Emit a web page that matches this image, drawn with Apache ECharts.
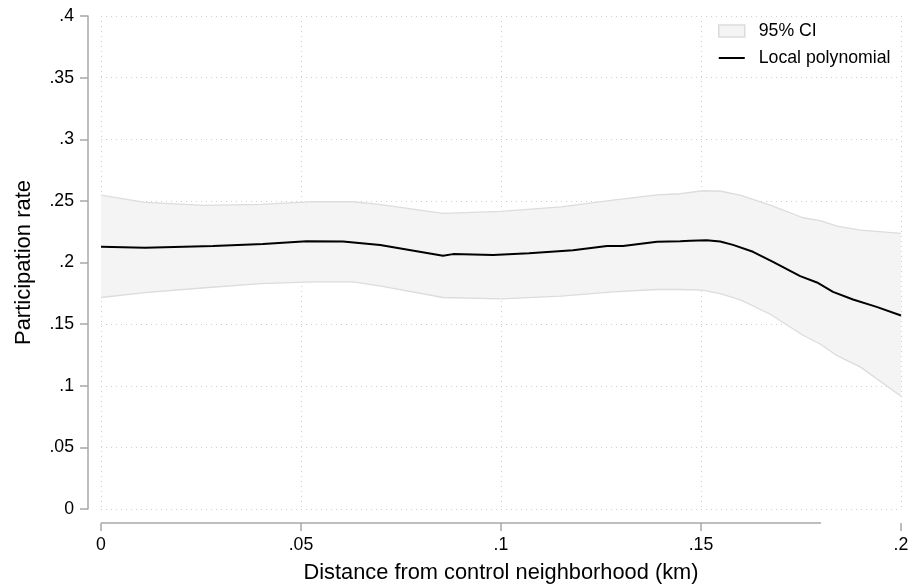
<!DOCTYPE html>
<html><head><meta charset="utf-8">
<script src="https://cdn.jsdelivr.net/npm/echarts@6/dist/echarts.min.js"></script>
<style>html,body{margin:0;padding:0;background:#fff}#c{width:913px;height:584px}</style>
</head><body><div id="c"></div>
<script>
// ---- data ----
const xTicks = [0, 0.05, 0.1, 0.15, 0.2];
const yTicks = [0, 0.05, 0.1, 0.15, 0.2, 0.25, 0.3, 0.35, 0.4];

const lineX = [0, 0.011, 0.028, 0.0405, 0.0514, 0.0605, 0.0698, 0.0855, 0.088, 0.098, 0.107, 0.118, 0.1265, 0.1305, 0.139, 0.1448, 0.1473, 0.1514, 0.1548, 0.158, 0.163, 0.168, 0.1748, 0.179, 0.183, 0.188, 0.1939, 0.2];
const lineY = [0.2127, 0.2119, 0.2133, 0.2151, 0.2173, 0.2171, 0.2142, 0.2054, 0.2068, 0.206, 0.2076, 0.210, 0.2133, 0.2133, 0.2168, 0.2173, 0.2176, 0.2181, 0.2171, 0.2143, 0.2087, 0.2005, 0.1889, 0.1838, 0.1762, 0.170, 0.164, 0.157];

const ciX     = [0, 0.011, 0.026, 0.04, 0.053, 0.063, 0.07, 0.0855, 0.1, 0.115, 0.128, 0.139, 0.1448, 0.1505, 0.155, 0.16, 0.1673, 0.1755, 0.18, 0.184, 0.1898, 0.2];
const ciUpper = [0.2547, 0.2488, 0.2463, 0.2471, 0.2494, 0.2493, 0.2470, 0.2398, 0.2414, 0.2452, 0.2506, 0.2549, 0.2558, 0.2582, 0.2578, 0.2545, 0.2466, 0.2363, 0.2338, 0.2295, 0.2263, 0.2236];
const ciLower = [0.1716, 0.1755, 0.1795, 0.1829, 0.1843, 0.1843, 0.1808, 0.1716, 0.1705, 0.1727, 0.1762, 0.1781, 0.1781, 0.1776, 0.1745, 0.1695, 0.1580, 0.1410, 0.1335, 0.1244, 0.1153, 0.0915];

const xAxisLineEnd = 0.18;   // the drawn x axis line stops here

// ---- styles ----
const AXIS_COLOR = '#a8a8a8';
const GRID_COLOR = '#d0d0d0';
const BAND_FILL = '#f4f4f4';
const BAND_EDGE = '#dcdcdc';
const FONT = '"Liberation Sans", Arial, Helvetica, sans-serif';
const X_OFFSET = 14, Y_OFFSET = 13;

const fmt = v => {
  if (Math.abs(v) < 1e-9) return '0';
  return String(+(+v).toFixed(3)).replace(/^0/, '');
};

const chart = echarts.init(document.getElementById('c'), null, {renderer: 'canvas'});

const option = {
  animation: false,
  backgroundColor: '#fff',
  textStyle: {fontFamily: FONT},
  grid: {left: 101, right: 12, top: 16, bottom: 75, containLabel: false, outerBoundsMode: 'none'},
  legend: {
    orient: 'vertical', left: 718, top: 22, padding: 0, itemWidth: 26, itemHeight: 12, itemGap: 9,
    textStyle: {fontSize: 17.7, color: '#000', fontFamily: FONT, padding: [0, 0, 0, 9]},
    data: [
      {name: '95% CI', icon: 'rect', itemStyle: {color: BAND_FILL, borderColor: BAND_EDGE, borderWidth: 1.5}},
      {name: 'Local polynomial', icon: 'path://M0,0H26V2H0Z', itemStyle: {color: '#000'}}
    ]
  },
  xAxis: {
    type: 'value', min: xTicks[0], max: xTicks[xTicks.length - 1], interval: xTicks[1] - xTicks[0],
    offset: X_OFFSET,
    name: 'Distance from control neighborhood (km)', nameLocation: 'middle', nameGap: 39,
    nameTextStyle: {fontSize: 21.8, color: '#000', fontFamily: FONT},
    axisLine: {show: false, onZero: false},
    axisTick: {show: true, length: 8, lineStyle: {color: AXIS_COLOR, width: 1.5}},
    axisLabel: {formatter: fmt, fontSize: 17.7, color: '#000', margin: 13, fontFamily: FONT},
    splitLine: {show: true, lineStyle: {color: GRID_COLOR, type: [1, 4], width: 1}}
  },
  yAxis: {
    type: 'value', min: yTicks[0], max: yTicks[yTicks.length - 1], interval: yTicks[1] - yTicks[0],
    offset: Y_OFFSET,
    name: 'Participation rate', nameLocation: 'middle', nameGap: 53,
    nameTextStyle: {fontSize: 22, color: '#000', fontFamily: FONT},
    axisLine: {show: true, onZero: false, lineStyle: {color: AXIS_COLOR, width: 1.5}},
    axisTick: {show: true, length: 8, lineStyle: {color: AXIS_COLOR, width: 1.5}},
    axisLabel: {formatter: fmt, fontSize: 17.7, color: '#000', margin: 14, fontFamily: FONT},
    splitLine: {show: true, lineStyle: {color: GRID_COLOR, type: [1, 4], width: 1}}
  },
  series: [
    {
      name: '95% CI', type: 'custom', silent: true, z: 2,
      itemStyle: {color: BAND_FILL},
      data: [[ciX[0], ciLower[0]]],
      renderItem: (params, api) => {
        const pts = ciX.map((x, i) => api.coord([x, ciUpper[i]]));
        for (let i = ciX.length - 1; i >= 0; i--) pts.push(api.coord([ciX[i], ciLower[i]]));
        return {type: 'polygon', shape: {points: pts}, style: {fill: BAND_FILL, stroke: null}};
      }
    },
    {
      name: 'CI upper', type: 'line', symbol: 'none', silent: true, z: 3,
      data: ciX.map((x, i) => [x, ciUpper[i]]),
      lineStyle: {color: BAND_EDGE, width: 1.3}
    },
    {
      name: 'CI lower', type: 'line', symbol: 'none', silent: true, z: 3,
      data: ciX.map((x, i) => [x, ciLower[i]]),
      lineStyle: {color: BAND_EDGE, width: 1.3}
    },
    {
      name: 'Local polynomial', type: 'line', symbol: 'none', z: 4,
      data: lineX.map((x, i) => [x, lineY[i]]),
      lineStyle: {color: '#000', width: 2}, itemStyle: {color: '#000'}
    }
  ]
};
chart.setOption(option);

// x axis line, drawn only over the data span, positioned through the axis scale
const p0 = chart.convertToPixel({xAxisIndex: 0, yAxisIndex: 0}, [xTicks[0], yTicks[0]]);
const p1 = chart.convertToPixel({xAxisIndex: 0, yAxisIndex: 0}, [xAxisLineEnd, yTicks[0]]);
chart.setOption({
  graphic: [{
    type: 'line', silent: true, z: 10,
    shape: {x1: p0[0], y1: p0[1] + X_OFFSET, x2: p1[0], y2: p1[1] + X_OFFSET},
    style: {stroke: AXIS_COLOR, lineWidth: 1.5}
  }]
});
</script>
</body></html>
